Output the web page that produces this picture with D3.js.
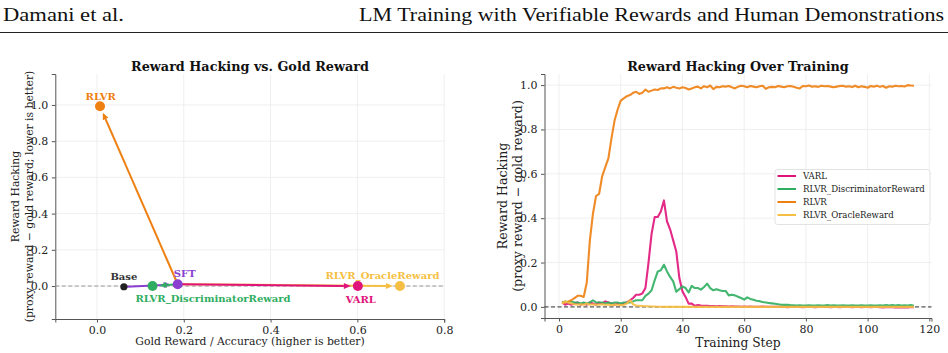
<!DOCTYPE html>
<html>
<head>
<meta charset="utf-8">
<script src="https://cdn.jsdelivr.net/npm/d3@7"></script>
<style>
  html, body { margin: 0; padding: 0; background: #fff; }
  svg { display: block; }
</style>
</head>
<body>
<div id="chart"></div>
<script>
// ---- data: left panel (final checkpoints) ----
const models = ["Base", "SFT", "RLVR", "RLVR_DiscriminatorReward", "VARL", "RLVR_OracleReward"];
const goldReward = [0.062, 0.186, 0.007, 0.128, 0.601, 0.698];
const hacking = [-0.004, 0.010, 0.993, 0.000, 0.000, 0.000];
// arrows: from -> to
const arrowFrom = ["Base", "SFT", "SFT", "SFT", "SFT"];
const arrowTo = ["SFT", "RLVR", "RLVR_DiscriminatorReward", "RLVR_OracleReward", "VARL"];
const leftXTicks = [0.0, 0.2, 0.4, 0.6, 0.8];
const leftYTicks = [0.0, 0.2, 0.4, 0.6, 0.8, 1.0];

// ---- data: right panel (training curves, steps 1..115) ----
const seriesNames = ["VARL", "RLVR_DiscriminatorReward", "RLVR", "RLVR_OracleReward"];
const varl = [
  0.020, 0.010, 0.015, 0.010, 0.015, 0.020, 0.010, 0.015, 0.010, 0.020,
  0.015, 0.010, 0.020, 0.015, 0.025, 0.020, 0.015, 0.010, 0.015, 0.010,
  0.015, 0.020, 0.030, 0.040, 0.055, 0.055, 0.060, 0.085, 0.200, 0.330,
  0.405, 0.405, 0.430, 0.480, 0.385, 0.350, 0.300, 0.250, 0.130, 0.070,
  0.045, 0.015, 0.015, 0.005, 0.008, 0.006, 0.005, 0.005, 0.004, 0.004,
  0.003, 0.004, 0.003, 0.003, 0.002, 0.003, 0.002, 0.002, 0.001, 0.002,
  0.001, 0.002, 0.001, 0.000, 0.001, 0.002, 0.000, 0.001, 0.000, 0.001,
  0.000, 0.001, 0.000, -0.001, 0.000, 0.001, 0.000, 0.000, -0.001, 0.000,
  0.001, 0.000, -0.001, 0.000, 0.000, 0.001, 0.000, -0.001, 0.000, 0.000,
  -0.001, 0.000, 0.001, 0.000, -0.001, 0.000, 0.000, -0.001, 0.000, 0.000,
  -0.001, 0.000, 0.000, -0.001, -0.002, -0.001, 0.000, -0.001, -0.002, -0.001,
  -0.002, -0.001, -0.002, -0.001, -0.001
];
const discriminator = [
  0.020, 0.025, 0.020, 0.025, 0.020, 0.020, 0.015, 0.020, 0.015, 0.020,
  0.030, 0.020, 0.020, 0.020, 0.015, 0.020, 0.015, 0.020, 0.020, 0.015,
  0.020, 0.020, 0.020, 0.025, 0.030, 0.030, 0.030, 0.050, 0.060, 0.075,
  0.120, 0.160, 0.165, 0.190, 0.160, 0.135, 0.115, 0.068, 0.080, 0.092,
  0.085, 0.065, 0.095, 0.085, 0.085, 0.078, 0.090, 0.105, 0.085, 0.075,
  0.080, 0.075, 0.072, 0.072, 0.052, 0.055, 0.052, 0.046, 0.040, 0.033,
  0.043, 0.036, 0.032, 0.028, 0.026, 0.022, 0.020, 0.018, 0.016, 0.014,
  0.012, 0.010, 0.009, 0.010, 0.008, 0.007, 0.006, 0.007, 0.006, 0.006,
  0.007, 0.006, 0.006, 0.007, 0.006, 0.006, 0.008, 0.006, 0.007, 0.006,
  0.006, 0.007, 0.006, 0.006, 0.007, 0.006, 0.006, 0.007, 0.006, 0.006,
  0.007, 0.006, 0.006, 0.007, 0.006, 0.008, 0.006, 0.009, 0.006, 0.008,
  0.006, 0.007, 0.006, 0.008, 0.005
];
const rlvr = [
  0.020, 0.020, 0.025, 0.030, 0.040, 0.050, 0.050, 0.045, 0.110, 0.300,
  0.420, 0.500, 0.510, 0.590, 0.630, 0.670, 0.760, 0.840, 0.890, 0.930,
  0.940, 0.950, 0.955, 0.965, 0.970, 0.960, 0.965, 0.980, 0.970, 0.975,
  0.980, 0.978, 0.985, 0.985, 0.990, 0.985, 0.992, 0.988, 0.985, 0.990,
  0.987, 0.980, 0.985, 0.990, 0.993, 0.985, 0.995, 0.990, 0.998, 0.982,
  0.992, 0.990, 0.995, 0.993, 0.996, 0.990, 0.985, 0.993, 0.997, 0.995,
  0.990, 0.996, 0.993, 0.990, 0.995, 0.997, 0.983, 0.990, 0.992, 0.990,
  0.996, 0.993, 0.990, 0.995, 0.996, 0.992, 0.988, 0.985, 0.996, 0.995,
  0.998, 0.993, 0.995, 0.992, 0.997, 0.995, 0.996, 0.993, 0.990, 0.993,
  0.996, 0.997, 0.993, 0.995, 0.991, 0.997, 0.990, 0.995, 0.992, 0.988,
  0.996, 0.993, 0.997, 0.992, 0.996, 0.988, 0.995, 0.993, 0.997, 0.995,
  0.996, 0.994, 1.000, 0.998, 0.997
];
const oracle = [
  0.015, 0.025, 0.020, 0.015, 0.012, 0.010, 0.012, 0.010, 0.015, 0.010,
  0.012, 0.010, 0.010, 0.012, 0.010, 0.010, 0.008, 0.010, 0.010, 0.008,
  0.010, 0.015, 0.030, 0.012, 0.006, 0.005, 0.004, 0.003, 0.003, 0.002,
  0.002, 0.001, 0.001, 0.000, 0.001, 0.000, 0.000, 0.001, 0.000, 0.000,
  0.001, 0.000, 0.000, 0.000, 0.001, 0.000, 0.000, 0.000, 0.000, 0.001,
  0.000, 0.000, 0.000, 0.000, 0.000, 0.001, 0.000, 0.000, 0.000, 0.000,
  0.000, 0.000, 0.000, 0.000, 0.000, 0.000, 0.000, 0.000, 0.000, 0.000,
  0.000, 0.000, 0.000, 0.000, 0.000, 0.000, 0.000, 0.000, 0.000, 0.000,
  0.000, 0.000, 0.000, 0.000, 0.000, 0.000, 0.000, 0.000, 0.000, 0.000,
  0.000, 0.000, 0.000, 0.000, 0.000, 0.000, 0.000, 0.000, 0.000, 0.000,
  0.000, 0.000, 0.000, 0.000, 0.000, 0.000, 0.000, 0.000, 0.000, 0.000,
  0.000, 0.000, 0.000, 0.000, 0.000
];
const rightXTicks = [0, 20, 40, 60, 80, 100, 120];
const rightYTicks = [0.0, 0.2, 0.4, 0.6, 0.8, 1.0];

// ---- style ----
const colors = {
  Base: "#222222",
  SFT: "#8a3fd1",
  RLVR: "#ee8011",
  RLVR_DiscriminatorReward: "#2fae61",
  VARL: "#e0137a",
  RLVR_OracleReward: "#f5bf43"
};
const serif = "'DejaVu Serif', serif";
const gridColor = "#ebebeb";
const spineColor = "#555";

const width = 948, height = 353;
const svg = d3.select("#chart").append("svg")
  .attr("width", width).attr("height", height)
  .style("font-family", serif);

// page header
svg.append("text").attr("x", 3).attr("y", 21)
  .attr("textLength", 121).attr("lengthAdjust", "spacingAndGlyphs")
  .style("font-family", "'Liberation Serif', serif").style("font-size", "19px").attr("fill", "#111")
  .text("Damani et al.");
svg.append("text").attr("x", 944).attr("y", 21).attr("text-anchor", "end")
  .attr("textLength", 585).attr("lengthAdjust", "spacingAndGlyphs")
  .style("font-family", "'Liberation Serif', serif").style("font-size", "19px").attr("fill", "#111")
  .text("LM Training with Verifiable Rewards and Human Demonstrations");
svg.append("line").attr("x1", 0).attr("x2", width).attr("y1", 32.5).attr("y2", 32.5)
  .attr("stroke", "#222").attr("stroke-width", 1.2);

function drawFrame(g, x, y, xTicks, yTicks, fmtX, fmtY) {
  const [x0, x1] = x.range();
  const [y0, y1] = y.range();
  g.append("g").selectAll("line").data(xTicks).join("line")
    .attr("x1", d => x(d)).attr("x2", d => x(d)).attr("y1", y0).attr("y2", y1)
    .attr("stroke", gridColor).attr("stroke-width", 0.8);
  g.append("g").selectAll("line").data(yTicks).join("line")
    .attr("x1", x0).attr("x2", x1).attr("y1", d => y(d)).attr("y2", d => y(d))
    .attr("stroke", gridColor).attr("stroke-width", 0.8);

  const ax = g.append("g").attr("transform", `translate(0,${y0})`)
    .call(d3.axisBottom(x).tickValues(xTicks).tickFormat(fmtX).tickSize(3.5).tickPadding(3.5));
  const ay = g.append("g").attr("transform", `translate(${x0},0)`)
    .call(d3.axisLeft(y).tickValues(yTicks).tickFormat(fmtY).tickSize(3.5).tickPadding(3.5));
  [ax, ay].forEach(a => {
    a.attr("font-family", null).attr("font-size", null);
    a.select(".domain").attr("stroke", spineColor).attr("stroke-width", 1);
    a.selectAll(".tick line").attr("stroke", spineColor);
    a.selectAll(".tick text").attr("fill", "#222")
      .style("font-family", serif).style("font-size", "11px");
  });
}

// ================= left panel =================
const xL = d3.scaleLinear().domain([-0.096, 0.8]).range([55.3, 444.2]);
const yL = d3.scaleLinear().domain([-0.182, 1.171]).range([319, 74]);
const left = svg.append("g");
drawFrame(left, xL, yL, leftXTicks, leftYTicks, d3.format(".1f"), d3.format(".1f"));

left.append("line").attr("x1", xL.range()[0]).attr("x2", xL.range()[1])
  .attr("y1", yL(0)).attr("y2", yL(0))
  .attr("stroke", "#999").attr("stroke-width", 1).attr("stroke-dasharray", "4,2.5");

left.append("text").attr("x", 250).attr("y", 71).attr("text-anchor", "middle")
  .style("font-size", "12.8px").style("font-weight", "bold").attr("fill", "#111")
  .text("Reward Hacking vs. Gold Reward");
left.append("text").attr("x", 250).attr("y", 345).attr("text-anchor", "middle")
  .style("font-size", "10.8px").attr("fill", "#222")
  .text("Gold Reward / Accuracy (higher is better)");
const ylabL = left.append("text").attr("transform", "translate(0,196.5) rotate(-90)")
  .attr("text-anchor", "middle").style("font-size", "10.8px").attr("fill", "#222");
ylabL.append("tspan").attr("x", 0).attr("y", 19).text("Reward Hacking");
ylabL.append("tspan").attr("x", 0).attr("y", 33).text("(proxy reward \u2212 gold reward; lower is better)");

const pts = models.map((m, i) => ({ name: m, gx: goldReward[i], hy: hacking[i] }));
const byName = Object.fromEntries(pts.map(p => [p.name, p]));

// arrows (shortened at both ends, filled head)
arrowFrom.forEach((f, i) => {
  const a = byName[f], b = byName[arrowTo[i]];
  const ax = xL(a.gx), ay = yL(a.hy), bx = xL(b.gx), by = yL(b.hy);
  const dx = bx - ax, dy = by - ay, len = Math.hypot(dx, dy);
  const ux = dx / len, uy = dy / len;
  const sx = ax + ux * 3, sy = ay + uy * 3;
  const tx = bx - ux * 7, ty = by - uy * 7;
  const headL = 7, headW = 3;
  const hx = tx - ux * headL, hy = ty - uy * headL;
  const col = colors[b.name];
  left.append("line").attr("x1", sx).attr("y1", sy).attr("x2", hx).attr("y2", hy)
    .attr("stroke", col).attr("stroke-width", 2);
  left.append("path")
    .attr("d", `M${tx},${ty}L${hx - uy * headW},${hy + ux * headW}L${hx + uy * headW},${hy - ux * headW}Z`)
    .attr("fill", col);
});

left.selectAll("circle.pt").data(pts).join("circle").attr("class", "pt")
  .attr("cx", d => xL(d.gx)).attr("cy", d => yL(d.hy))
  .attr("r", d => d.name === "Base" ? 3.6 : 5)
  .attr("fill", d => colors[d.name]);

const labelOffset = {
  Base: [0, -7], SFT: [7, -7], RLVR: [0.7, -6],
  RLVR_DiscriminatorReward: [60.5, 16], VARL: [3, 17], RLVR_OracleReward: [-17.5, -7]
};
left.selectAll("text.lab").data(pts).join("text").attr("class", "lab")
  .attr("x", d => xL(d.gx) + labelOffset[d.name][0])
  .attr("y", d => yL(d.hy) + labelOffset[d.name][1])
  .attr("text-anchor", "middle")
  .style("font-size", "10px").style("font-weight", "bold")
  .attr("fill", d => d.name === "Base" ? "#333" : colors[d.name])
  .text(d => d.name);

// ================= right panel =================
const xR = d3.scaleLinear().domain([-4.7, 120.7]).range([544.5, 931.5]);
const yR = d3.scaleLinear().domain([-0.05, 1.05]).range([318, 74]);
const right = svg.append("g");
drawFrame(right, xR, yR, rightXTicks, rightYTicks, d3.format("d"), d3.format(".1f"));

right.append("line").attr("x1", xR.range()[0]).attr("x2", xR.range()[1])
  .attr("y1", yR(0)).attr("y2", yR(0))
  .attr("stroke", "#333").attr("stroke-width", 1).attr("stroke-dasharray", "4,2.5");

const seriesValues = [varl, discriminator, rlvr, oracle];
const line = d3.line().x((d, i) => xR(i + 1)).y(d => yR(d));
seriesNames.forEach((name, k) => {
  right.append("path").datum(seriesValues[k])
    .attr("d", line).attr("fill", "none")
    .attr("stroke", colors[name]).attr("stroke-width", 2.1)
    .attr("stroke-opacity", 0.9).attr("stroke-linejoin", "round");
});

right.append("text").attr("x", 738).attr("y", 71).attr("text-anchor", "middle")
  .style("font-size", "12.8px").style("font-weight", "bold").attr("fill", "#111")
  .text("Reward Hacking Over Training");
right.append("text").attr("x", 738).attr("y", 347).attr("text-anchor", "middle")
  .style("font-size", "12.3px").attr("fill", "#222")
  .text("Training Step");
const ylabR = right.append("text").attr("transform", "translate(0,196) rotate(-90)")
  .attr("text-anchor", "middle").style("font-size", "12.6px").attr("fill", "#222");
ylabR.append("tspan").attr("x", 0).attr("y", 507).text("Reward Hacking");
ylabR.append("tspan").attr("x", 0).attr("y", 522).text("(proxy reward \u2212 gold reward)");

// legend
const lg = right.append("g").attr("transform", "translate(775,169.5)");
lg.append("rect").attr("width", 155).attr("height", 55).attr("rx", 2.5)
  .attr("fill", "#fff").attr("fill-opacity", 0.85).attr("stroke", "#dcdcdc").attr("stroke-width", 0.8);
seriesNames.forEach((name, k) => {
  const gy = 6.5 + k * 13;
  lg.append("line").attr("x1", 2.5).attr("x2", 21).attr("y1", gy).attr("y2", gy)
    .attr("stroke", colors[name]).attr("stroke-width", 2);
  lg.append("text").attr("x", 28).attr("y", gy + 3.2)
    .style("font-size", "8.6px").attr("fill", "#222").text(name);
});
</script>
</body>
</html>
